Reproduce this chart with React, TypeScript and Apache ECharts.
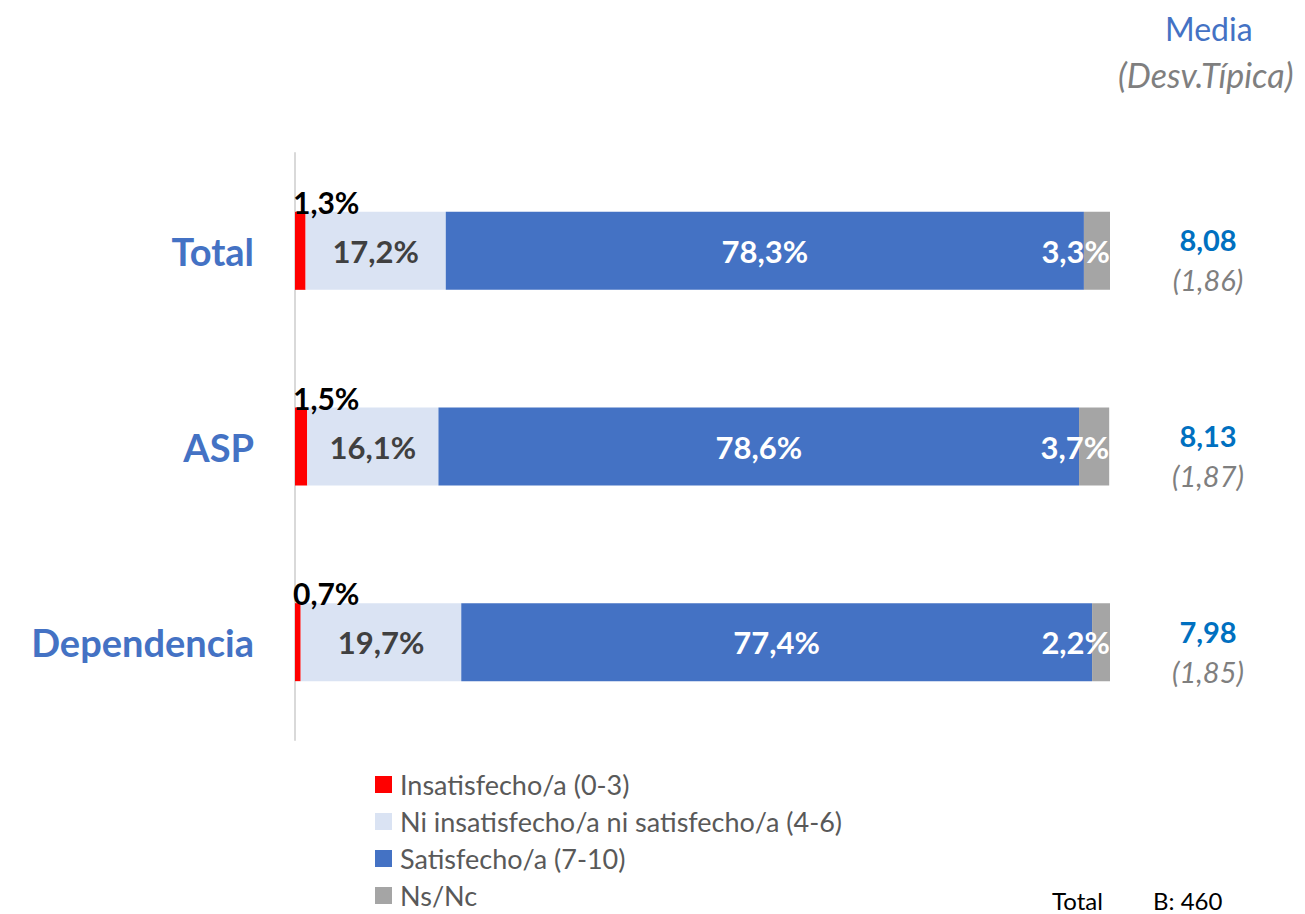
import React, { useEffect, useRef } from "react";
import * as echarts from "echarts";

const categories = ["Total", "ASP", "Dependencia"];
const seriesNames = [
  "Insatisfecho/a (0-3)",
  "Ni insatisfecho/a ni satisfecho/a (4-6)",
  "Satisfecho/a (7-10)",
  "Ns/Nc",
];
const insatisfecho = [1.3, 1.5, 0.7];
const ni = [17.2, 16.1, 19.7];
const satisfecho = [78.3, 78.6, 77.4];
const nsnc = [3.3, 3.7, 2.2];
const medias = ["8,08", "8,13", "7,98"];
const desviaciones = ["(1,86)", "(1,87)", "(1,85)"];
const colors = ["#FF0000", "#DAE3F3", "#4472C4", "#A5A5A5"];

const FONT = "Lato, 'Noto Sans', sans-serif";
const pct = (p: any) => String(Number(p.value).toFixed(1)).replace(".", ",") + "%";

export default function App() {
  const ref = useRef<HTMLDivElement>(null);
  useEffect(() => {
    if (!ref.current) return;
    const chart = echarts.init(ref.current, null, { renderer: "svg" });
    const labelBase = { fontFamily: FONT, fontWeight: "bold" as const, fontSize: 31, formatter: pct };
    chart.setOption({
      animation: false,
      backgroundColor: "#ffffff",
      grid: { left: 295, top: 153, width: 815, height: 587, containLabel: false },
      xAxis: {
        type: "value",
        min: 0,
        max: 100,
        show: false,
      },
      yAxis: [
        {
          type: "category",
          data: categories,
          inverse: true,
          axisLine: { show: true, lineStyle: { color: "#D9D9D9", width: 2 } },
          axisTick: { show: false },
          axisLabel: {
            margin: 41,
            color: "#4472C4",
            fontFamily: FONT,
            fontWeight: "bold",
            fontSize: 38,
          },
        },
        {
          type: "category",
          data: categories,
          inverse: true,
          position: "right",
          axisLine: { show: false },
          axisTick: { show: false },
          axisLabel: {
            margin: 98,
            align: "center",
            padding: [18, 0, 0, 0],
            formatter: (_v: string, i: number) => `{m|${medias[i]}}\n{s|${desviaciones[i]}}`,
            rich: {
              m: { color: "#0070C0", fontFamily: FONT, fontWeight: "bold", fontSize: 29, lineHeight: 40, align: "center" },
              s: { color: "#7F7F7F", fontFamily: FONT, fontStyle: "italic", fontSize: 29, lineHeight: 40, align: "center" },
            },
          },
        },
      ],
      legend: {
        orient: "vertical",
        left: 375,
        top: 771,
        height: 200,
        padding: 0,
        itemWidth: 17,
        itemHeight: 17,
        itemGap: 10,
        icon: "rect",
        data: seriesNames,
        textStyle: { color: "#595959", fontFamily: FONT, fontSize: 27, lineHeight: 25, padding: [0, 0, 0, 3] },
      },
      graphic: [
        { type: "text", left: 1165, top: 12, style: { text: "Media", fill: "#4472C4", font: `32px ${FONT}` } },
        { type: "text", left: 1118, top: 57, style: { text: "(Desv.Típica)", fill: "#7F7F7F", font: `italic 34px ${FONT}` } },
        { type: "text", left: 1052, top: 888, style: { text: "Total", fill: "#000000", font: `24px ${FONT}` } },
        { type: "text", left: 1153, top: 888, style: { text: "B: 460", fill: "#000000", font: `24px ${FONT}` } },
      ],
      series: [
        {
          name: seriesNames[0],
          type: "bar",
          stack: "total",
          barWidth: 78,
          data: insatisfecho,
          itemStyle: { color: colors[0] },
          label: { show: true, ...labelBase, fontSize: 30, color: "#000000", position: [-2, -10], align: "left", verticalAlign: "middle" },
        },
        {
          name: seriesNames[1],
          type: "bar",
          stack: "total",
          barWidth: 78,
          data: ni,
          itemStyle: { color: colors[1] },
          label: { show: true, ...labelBase, color: "#404040", position: "inside" },
        },
        {
          name: seriesNames[2],
          type: "bar",
          stack: "total",
          barWidth: 78,
          data: satisfecho,
          itemStyle: { color: colors[2] },
          label: { show: true, ...labelBase, color: "#FFFFFF", position: "inside" },
        },
        {
          name: seriesNames[3],
          type: "bar",
          stack: "total",
          barWidth: 78,
          data: nsnc,
          itemStyle: { color: colors[3] },
          label: { show: true, ...labelBase, color: "#FFFFFF", position: "insideRight", distance: 0 },
        },
      ],
    });
    return () => chart.dispose();
  }, []);
  return <div ref={ref} style={{ position: "fixed", left: 0, top: 0, width: 1305, height: 914 }} />;
}
